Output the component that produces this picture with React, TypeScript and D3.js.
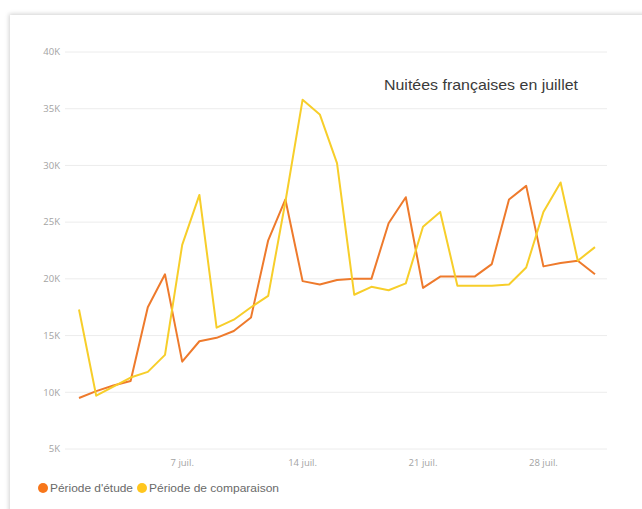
import React from "react";
import * as d3 from "d3";

const days = d3.range(1, 32);
const etude = [9500, 10100, 10600, 11000, 17500, 20400, 12700, 14500, 14800, 15400, 16600, 23400, 27000, 19800, 19500, 19900, 20000, 20000, 24900, 27200, 19200, 20200, 20200, 20200, 21300, 27000, 28200, 21100, 21400, 21600, 20400];
const comparaison = [17300, 9700, 10500, 11300, 11800, 13300, 23000, 27400, 15700, 16400, 17500, 18500, 26800, 35800, 34500, 30200, 18600, 19300, 19000, 19600, 24600, 25900, 19400, 19400, 19400, 19500, 21000, 25900, 28500, 21600, 22800];
const yTicks = [5000, 10000, 15000, 20000, 25000, 30000, 35000, 40000];
const xTickDays = [7, 14, 21, 28];
const seriesNames = ["Période d'étude", "Période de comparaison"];
const colors = ["#EE7A2C", "#F7CE2A"];
const title = "Nuitées françaises en juillet";

export default function App() {
  const W = 642, H = 509;
  const dates = days.map((d) => new Date(2023, 6, d));
  const x = d3.scaleTime().domain([dates[0], dates[dates.length - 1]]).range([79, 595]);
  const y = d3.scaleLinear().domain([5000, 40000]).range([449, 52]);
  const line = d3.line<number>().x((_, i) => x(dates[i])).y((v) => y(v));
  const series = [etude, comparaison];
  const fmt = (v: number) => `${v / 1000}K`;
  return (
    <svg width={W} height={H} style={{ position: "absolute", left: 0, top: 0, background: "#fff" }}>
      <defs>
        <filter id="sh" x="-5%" y="-5%" width="110%" height="110%">
          <feDropShadow dx="-1" dy="-1" stdDeviation="2" floodColor="#000" floodOpacity="0.18" />
        </filter>
      </defs>
      <rect x={10} y={15} width={660} height={520} fill="#fff" filter="url(#sh)" />
      {yTicks.map((t) => (
        <g key={t}>
          <line x1={65} x2={607} y1={y(t)} y2={y(t)} stroke="#ececec" strokeWidth={1} />
          <text x={60} y={y(t)} dy="0.35em" textAnchor="end" fontFamily="'Open Sans', sans-serif" fontSize={9.5} fill="#a3a3a3">
            {fmt(t)}
          </text>
        </g>
      ))}
      {xTickDays.map((d) => (
        <text key={d} x={x(new Date(2023, 6, d))} y={466} textAnchor="middle" fontFamily="'Open Sans', sans-serif" fontSize={9.5} fill="#a3a3a3">
          {`${d} juil.`}
        </text>
      ))}
      {series.map((s, i) => (
        <path key={i} d={line(s) || ""} fill="none" stroke={colors[i]} strokeWidth={2} strokeLinejoin="round" />
      ))}
      <text x={384} y={90} textLength={194} lengthAdjust="spacingAndGlyphs" fontFamily="'Liberation Sans', Arial, sans-serif" fontSize={14.5} fill="#3a3a3a">
        {title}
      </text>
      <g fontFamily="'Liberation Sans', Arial, sans-serif" fontSize={10.5} fill="#6a6a6a">
        <circle cx={43} cy={488} r={5} fill="#F7761A" />
        <text x={50} y={492} textLength={83} lengthAdjust="spacingAndGlyphs">{seriesNames[0]}</text>
        <circle cx={142} cy={488} r={5} fill="#FFC61E" />
        <text x={149} y={492} textLength={130} lengthAdjust="spacingAndGlyphs">{seriesNames[1]}</text>
      </g>
    </svg>
  );
}
